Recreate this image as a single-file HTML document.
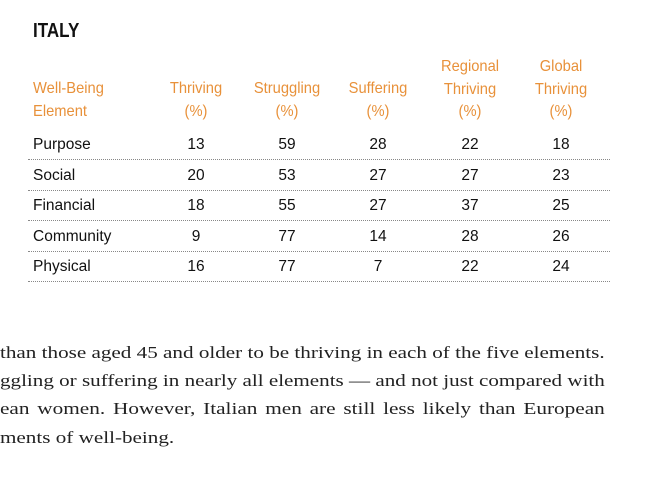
<!DOCTYPE html>
<html><head><meta charset="utf-8"><style>
body{margin:0;width:655px;height:500px;background:#fff;position:relative;overflow:hidden;font-family:"Liberation Sans",sans-serif}
.a{position:absolute;white-space:nowrap}
#title{left:33px;top:20px;font-family:"Liberation Sans Narrow","Liberation Sans",sans-serif;font-weight:bold;font-size:20px;color:#111;transform:scaleX(0.85);transform-origin:left}
.h{font-family:"Liberation Sans Narrow","Liberation Sans",sans-serif;color:#e8913a;font-size:16px;line-height:22.5px;text-align:center;transform:translateX(-50%) scaleX(0.92)}
.c{font-size:15.5px;color:#111;transform:translateX(-50%)}
.lab{font-size:15.5px;color:#111}
.rule{position:absolute;left:28px;width:582px;border-top:1px dotted #888;height:0}
.p{font-family:"Liberation Serif",serif;font-size:17px;color:#222;left:0;white-space:nowrap;transform-origin:left}
</style></head><body>
<div class="a" id="title">ITALY</div>
<div class="a h" style="left:33px;top:78px;text-align:left;transform:scaleX(0.92);transform-origin:left">Well-Being<br>Element</div>
<div class="a h" style="left:196px;top:78px">Thriving<br>(%)</div>
<div class="a h" style="left:287px;top:78px">Struggling<br>(%)</div>
<div class="a h" style="left:378px;top:78px">Suffering<br>(%)</div>
<div class="a h" style="left:470px;top:56px">Regional<br>Thriving<br>(%)</div>
<div class="a h" style="left:561px;top:56px">Global<br>Thriving<br>(%)</div>
<div id="rows"></div>
<div class="a p" id="p1" style="top:343px">than those aged 45 and older to be thriving in each of the five elements.</div>
<div class="a p" id="p2" style="top:371px">ggling or suffering in nearly all elements — and not just compared with</div>
<div class="a p" id="p3" style="top:399px;word-spacing:2px">ean women. However, Italian men are still less likely than European</div>
<div class="a p" id="p4" style="top:428px">ments of well-being.</div>
<script>
const elements=["Purpose","Social","Financial","Community","Physical"];
const thriving=[13,20,18,9,16];
const struggling=[59,53,55,77,77];
const suffering=[28,27,27,14,7];
const regional=[22,27,37,28,22];
const global=[18,23,25,26,24];
const cols=[thriving,struggling,suffering,regional,global];
const colX=[196,287,378,470,561];
const root=document.getElementById('rows');
elements.forEach((e,i)=>{
  const top=136+i*30.5;
  const l=document.createElement('div');
  l.className='a lab';l.style.left='33px';l.style.top=top+'px';l.textContent=e;
  
  
  root.appendChild(l);
  cols.forEach((c,j)=>{
    const d=document.createElement('div');
    d.className='a c';d.style.left=colX[j]+'px';d.style.top=top+'px';d.textContent=c[i];
    
    
    root.appendChild(d);
  });
  const r=document.createElement('div');
  r.className='rule';r.style.top=(top+23)+'px';
  
  
  root.appendChild(r);
});
const s=605/document.getElementById('p1').offsetWidth;
['p1','p2','p3','p4'].forEach((id,k)=>{
  const el=document.getElementById(id);
  const sc=k<3?605/el.offsetWidth:s;
  el.style.transform='scaleX('+sc+')';
});
</script>
</body></html>
